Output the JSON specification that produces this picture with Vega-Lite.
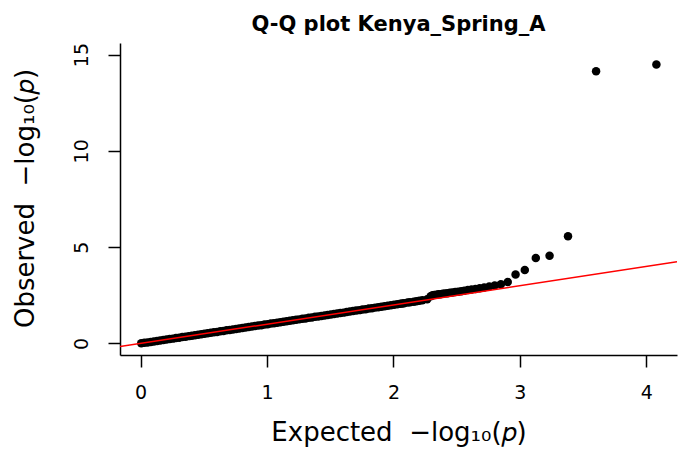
{
  "$schema": "https://vega.github.io/schema/vega-lite/v6.json",
  "width": 557,
  "height": 312,
  "autosize": "none",
  "padding": {"left": 120, "top": 43, "right": 11, "bottom": 104},
  "background": "white",
  "config": {"view": {"stroke": null}, "font": "DejaVu Sans"},
  "title": {"text": "Q-Q plot Kenya_Spring_A", "fontSize": 21, "fontWeight": "bold", "font": "DejaVu Sans", "color": "black", "anchor": "middle", "frame": "group", "baseline": "alphabetic", "offset": 15, "dy": 25},
  "datasets": {
    "pts": [
      {"e":0.005,"o":0.01},{"e":0.03,"o":0.03},{"e":0.055,"o":0.05},{"e":0.08,"o":0.08},{"e":0.105,"o":0.1},
      {"e":0.13,"o":0.13},{"e":0.155,"o":0.15},{"e":0.18,"o":0.18},{"e":0.205,"o":0.2},{"e":0.23,"o":0.23},
      {"e":0.255,"o":0.25},{"e":0.28,"o":0.28},{"e":0.305,"o":0.3},{"e":0.33,"o":0.33},{"e":0.355,"o":0.35},
      {"e":0.38,"o":0.38},{"e":0.405,"o":0.4},{"e":0.43,"o":0.43},{"e":0.455,"o":0.45},{"e":0.48,"o":0.48},
      {"e":0.505,"o":0.5},{"e":0.53,"o":0.53},{"e":0.555,"o":0.55},{"e":0.58,"o":0.58},{"e":0.605,"o":0.6},
      {"e":0.63,"o":0.63},{"e":0.655,"o":0.65},{"e":0.68,"o":0.68},{"e":0.705,"o":0.7},{"e":0.73,"o":0.73},
      {"e":0.755,"o":0.75},{"e":0.78,"o":0.78},{"e":0.805,"o":0.8},{"e":0.83,"o":0.83},{"e":0.855,"o":0.85},
      {"e":0.88,"o":0.88},{"e":0.905,"o":0.9},{"e":0.93,"o":0.93},{"e":0.955,"o":0.95},{"e":0.98,"o":0.98},
      {"e":1.005,"o":1.0},{"e":1.03,"o":1.03},{"e":1.055,"o":1.05},{"e":1.08,"o":1.08},{"e":1.105,"o":1.1},
      {"e":1.13,"o":1.13},{"e":1.155,"o":1.15},{"e":1.18,"o":1.18},{"e":1.205,"o":1.2},{"e":1.23,"o":1.23},
      {"e":1.255,"o":1.25},{"e":1.28,"o":1.28},{"e":1.305,"o":1.3},{"e":1.33,"o":1.33},{"e":1.355,"o":1.35},
      {"e":1.38,"o":1.38},{"e":1.405,"o":1.4},{"e":1.43,"o":1.43},{"e":1.455,"o":1.45},{"e":1.48,"o":1.48},
      {"e":1.505,"o":1.5},{"e":1.53,"o":1.53},{"e":1.555,"o":1.55},{"e":1.58,"o":1.58},{"e":1.605,"o":1.6},
      {"e":1.63,"o":1.63},{"e":1.655,"o":1.66},{"e":1.68,"o":1.68},{"e":1.705,"o":1.71},{"e":1.73,"o":1.73},
      {"e":1.755,"o":1.76},{"e":1.78,"o":1.78},{"e":1.805,"o":1.81},{"e":1.83,"o":1.83},{"e":1.855,"o":1.86},
      {"e":1.88,"o":1.88},{"e":1.905,"o":1.91},{"e":1.93,"o":1.93},{"e":1.955,"o":1.96},{"e":1.98,"o":1.98},
      {"e":2.005,"o":2.01},{"e":2.03,"o":2.03},{"e":2.055,"o":2.06},{"e":2.07,"o":2.07},
      {"e":2.084,"o":2.09},{"e":2.112,"o":2.12},{"e":2.131,"o":2.14},{"e":2.161,"o":2.17},{"e":2.182,"o":2.19},
      {"e":2.205,"o":2.22},{"e":2.229,"o":2.24},{"e":2.267,"o":2.3},{"e":2.295,"o":2.45},{"e":2.309,"o":2.5},
      {"e":2.324,"o":2.52},{"e":2.34,"o":2.53},{"e":2.356,"o":2.55},{"e":2.372,"o":2.56},{"e":2.39,"o":2.58},
      {"e":2.408,"o":2.6},{"e":2.427,"o":2.61},{"e":2.447,"o":2.63},{"e":2.467,"o":2.65},{"e":2.489,"o":2.67},
      {"e":2.512,"o":2.69},{"e":2.536,"o":2.71},{"e":2.561,"o":2.74},{"e":2.589,"o":2.77},{"e":2.618,"o":2.8},
      {"e":2.649,"o":2.83},{"e":2.682,"o":2.87},{"e":2.718,"o":2.91},{"e":2.758,"o":2.96},{"e":2.801,"o":3.01},
      {"e":2.85,"o":3.07},{"e":2.904,"o":3.19},{"e":2.966,"o":3.58},{"e":3.039,"o":3.81},{"e":3.126,"o":4.44},
      {"e":3.235,"o":4.55},{"e":3.381,"o":5.56},{"e":3.603,"o":14.13},{"e":4.08,"o":14.48}
    ],
    "ref": [
      {"e":-0.163,"o":-0.163},{"e":4.243,"o":4.243}
    ]
  },
  "layer": [
    {
      "data": {"name": "pts"},
      "mark": {"type": "point", "filled": true, "shape": "circle", "size": 72, "color": "black", "opacity": 1},
      "encoding": {
        "x": {
          "field": "e", "type": "quantitative",
          "scale": {"domain": [-0.163, 4.243], "nice": false, "zero": false},
          "axis": {
            "title": "Expected \u00a0−log₁₀(𝑝)", "values": [0, 1, 2, 3, 4], "format": "d", "grid": false,
            "domainColor": "black", "domainWidth": 1.5, "tickColor": "black", "tickWidth": 1.5, "tickSize": 12,
            "labelFont": "DejaVu Sans", "labelFontSize": 19, "labelColor": "black", "labelPadding": 16,
            "labelFlush": false, "labelOverlap": false,
            "titleFont": "DejaVu Sans", "titleFontSize": 26, "titleFontWeight": "normal", "titleColor": "black",
            "titleBaseline": "alphabetic", "titleY": 85
          }
        },
        "y": {
          "field": "o", "type": "quantitative",
          "scale": {"domain": [-0.6, 15.6], "nice": false, "zero": false},
          "axis": {
            "title": "Observed \u00a0−log₁₀(𝑝)", "values": [0, 5, 10, 15], "format": "d", "grid": false,
            "domainColor": "black", "domainWidth": 1.5, "tickColor": "black", "tickWidth": 1.5, "tickSize": 12,
            "labelFont": "DejaVu Sans", "labelFontSize": 19, "labelColor": "black", "labelPadding": 21,
            "labelAngle": -90, "labelAlign": "center", "labelBaseline": "alphabetic",
            "labelFlush": false, "labelOverlap": false,
            "titleFont": "DejaVu Sans", "titleFontSize": 26, "titleFontWeight": "normal", "titleColor": "black",
            "titleAngle": -90, "titleAlign": "center", "titleBaseline": "alphabetic", "titleX": -87, "titleY": 155
          }
        }
      }
    },
    {
      "data": {"name": "ref"},
      "mark": {"type": "line", "color": "#ff0000", "strokeWidth": 1.5, "clip": true},
      "encoding": {
        "x": {"field": "e", "type": "quantitative"},
        "y": {"field": "o", "type": "quantitative"}
      }
    }
  ]
}
